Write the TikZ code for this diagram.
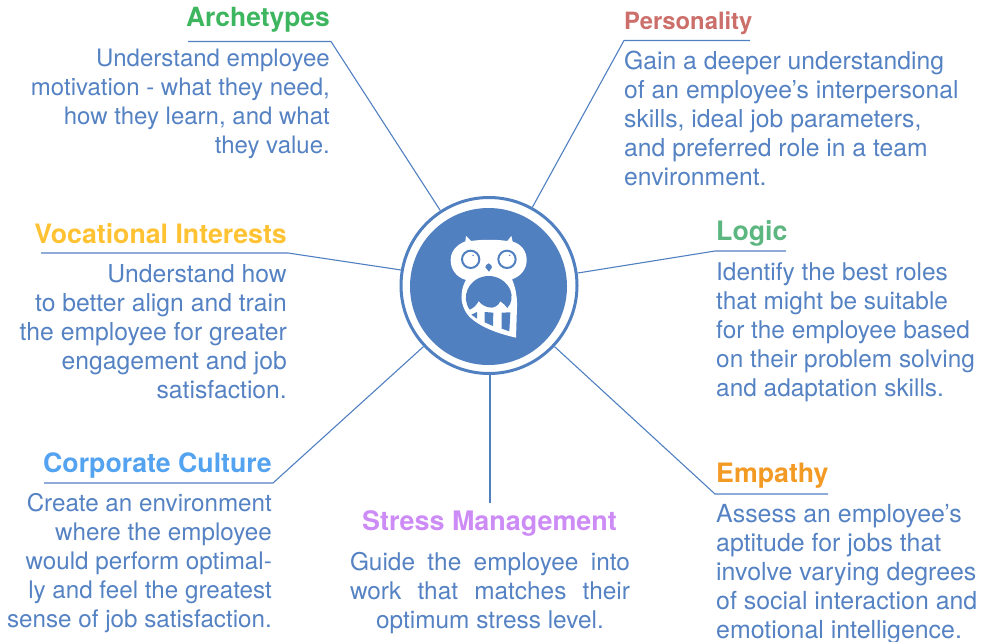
\documentclass[tikz,border=0pt]{standalone}
\usepackage{fontspec}
\setmainfont{TeX Gyre Heros}
\definecolor{hubblue}{HTML}{5180C1}
\definecolor{bodyblue}{HTML}{5582C3}
\definecolor{cArch}{HTML}{3DB65F}
\definecolor{cPers}{HTML}{CC6F6B}
\definecolor{cVoc}{HTML}{FEC233}
\definecolor{cLogic}{HTML}{5BB67F}
\definecolor{cCorp}{HTML}{53A3F0}
\definecolor{cEmp}{HTML}{F39A24}
\definecolor{cStress}{HTML}{CC8BF5}
\tikzset{
  bodyR/.style={inner sep=0pt,anchor=base east,align=right,text=bodyblue,font=\fontsize{#1}{28.9}\selectfont},
  bodyL/.style={inner sep=0pt,anchor=base west,align=left,text=bodyblue,font=\fontsize{#1}{28.9}\selectfont},
  bodyC/.style={inner sep=0pt,anchor=base,align=center,text=bodyblue,font=\fontsize{#1}{28.9}\selectfont},
  headR/.style={inner sep=0pt,anchor=base east,font=\bfseries\fontsize{#1}{30}\selectfont},
  headL/.style={inner sep=0pt,anchor=base west,font=\bfseries\fontsize{#1}{30}\selectfont},
  headC/.style={inner sep=0pt,anchor=base,font=\bfseries\fontsize{#1}{30}\selectfont},
  conn/.style={draw=hubblue,line width=1.1pt},
}
\begin{document}
\begin{tikzpicture}[x=1pt,y=-1pt]
\useasboundingbox (0,0) rectangle (990,642);
% hub
\node[circle,draw=hubblue,line width=3pt,fill=white,minimum size=176pt,inner sep=0pt] (hub) at (489,285.5) {};
\node[circle,fill=hubblue,minimum size=157pt,inner sep=0pt] (disc) at (488.5,286.5) {};
% owl
\begin{scope}[shift={(390,190)},x=0.33333pt,y=-0.33333pt]
\fill[white] (226,154) -- (228,138) -- (243,153)
  .. controls (275,148) and (320,148) .. (352,153)
  -- (364,138) -- (368,155)
  .. controls (395,162) and (410,185) .. (410,210)
  .. controls (410,235) and (395,258) .. (366,268)
  .. controls (376,290) and (382,320) .. (381,350)
  -- (378,443)
  .. controls (320,430) and (270,410) .. (240,382)
  .. controls (222,365) and (212,335) .. (215,312)
  .. controls (216,295) and (222,280) .. (228,270)
  .. controls (200,262) and (182,240) .. (182,210)
  .. controls (182,185) and (198,165) .. (226,154) -- cycle;
\fill[hubblue] (239,359)
  .. controls (226,340) and (224,318) .. (233,298)
  .. controls (245,272) and (270,258) .. (296,258)
  .. controls (325,258) and (350,275) .. (361,300)
  .. controls (368,318) and (366,340) .. (352,354)
  .. controls (345,345) and (338,338) .. (331,334)
  .. controls (325,348) and (310,356) .. (296,352)
  .. controls (285,350) and (272,342) .. (266,333)
  .. controls (260,345) and (250,355) .. (239,359) -- cycle;
\fill[hubblue] (244,374) -- (261,366) -- (261,386) -- cycle;
\fill[hubblue] (284,366) -- (310,368) -- (309,408) -- (284,397) -- cycle;
\fill[hubblue] (335,368) -- (361,367) -- (358,424) -- (335,416) -- cycle;
\draw[hubblue,line width=2pt,fill=white] (242,208) circle (26);
\draw[hubblue,line width=2pt,fill=white] (351,208) circle (26);
\fill[hubblue] (249,196) circle (2.5);
\fill[hubblue] (359,196) circle (2.5);
\fill[hubblue] (296,220) .. controls (302,222) and (306,228) .. (306,232) -- (297,245) -- (286,232) .. controls (286,228) and (290,222) .. (296,220) -- cycle;
\end{scope}
% Archetypes
\node[headR=26.4,text=cArch] (archH) at (330,26.5) {Archetypes};
\node[bodyR=24] (archB) at (330,153) {Understand employee\\motivation - what they need,\\how they learn, and what\\they value.};
\coordinate (archA) at (188,41.5); \coordinate (archC) at (331,41.5);
\draw[conn] (archA) -- (archC) -- (hub.123.4);
% Personality
\node[headL=23.8,text=cPers] (persH) at (624,30) {Personality};
\node[bodyL=24.7] (persB) at (624,185.5) {Gain a deeper understanding\\of an employee’s interpersonal\\skills, ideal job parameters,\\and preferred role in a team\\environment.};
\coordinate (persA) at (750,40.5); \coordinate (persC) at (624,40.5);
\draw[conn] (persA) -- (persC) -- (hub.61.8);
% Vocational
\node[headR=26.7,text=cVoc] (vocH) at (287,243) {Vocational Interests};
\node[bodyR=24.7] (vocB) at (287,398) {Understand how\\to better align and train\\the employee for greater\\engagement and job\\satisfaction.};
\coordinate (vocA) at (41,253); \coordinate (vocC) at (288,253);
\draw[conn] (vocA) -- (vocC) -- (hub.170.7);
% Logic
\node[headL=26.7,text=cLogic] (logH) at (716,240) {Logic};
\node[bodyL=24.4] (logB) at (716,396) {Identify the best roles\\that might be suitable\\for the employee based\\on their problem solving\\and adaptation skills.};
\coordinate (logA) at (786,251); \coordinate (logC) at (715,251);
\draw[conn] (logA) -- (logC) -- (hub.8);
% Corporate
\node[headR=26.7,text=cCorp] (corpH) at (272,472) {Corporate Culture};
\node[bodyR=24.2] (corpB) at (272,627.5) {Create an environment\\where the employee\\would perform optimal-\\ly and feel the greatest\\sense of job satisfaction.};
\coordinate (corpA) at (44,483); \coordinate (corpC) at (273,483);
\draw[conn] (corpA) -- (corpC) -- (hub.223.2);
% Empathy
\node[headL=26.7,text=cEmp] (empH) at (716,482) {Empathy};
\node[bodyL=24.9] (empB) at (716,638) {Assess an employee’s\\aptitude for jobs that\\involve varying degrees\\of social interaction and\\emotional intelligence.};
\coordinate (empA) at (828,494); \coordinate (empC) at (715,494);
\draw[conn] (empA) -- (empC) -- (hub.317.7);
% Stress
\node[headC=26.9,text=cStress] (strH) at (489.5,530) {Stress Management};
\node[bodyC=24.4] (strB) at (490,628.5) {\hbox to 280pt{Guide\hfill the\hfill employee\hfill into}\\\hbox to 280pt{work\hfill that\hfill matches\hfill their}\\optimum stress level.};
\coordinate (strC) at (490,503);
\draw[conn] (strC) -- (hub.south -| strC);
\end{tikzpicture}
\end{document}
